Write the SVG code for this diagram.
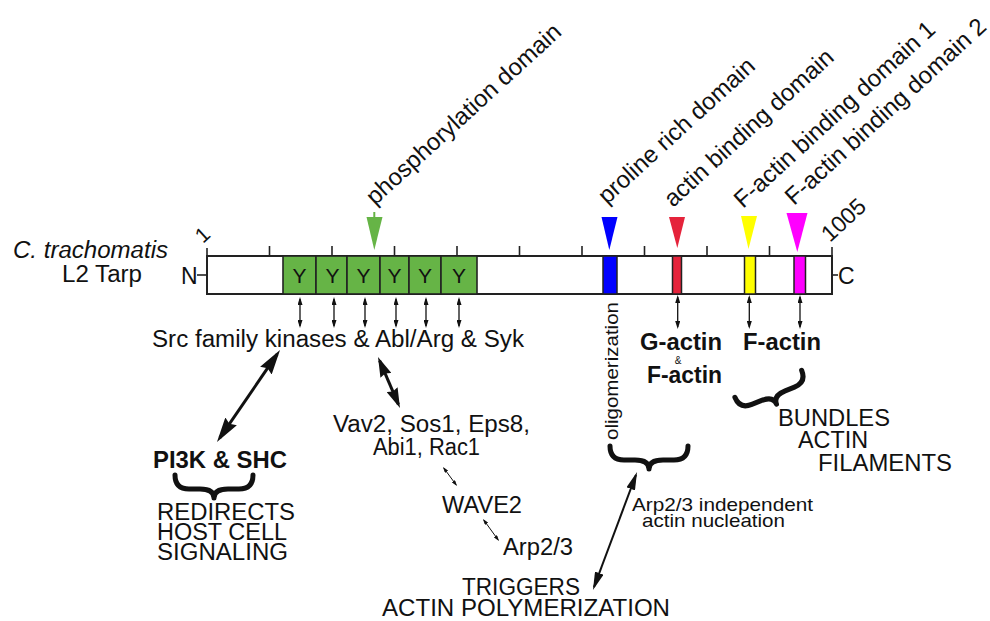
<svg xmlns="http://www.w3.org/2000/svg" width="990" height="621" viewBox="0 0 990 621">
<style>
text{font-family:"Liberation Sans",Arial,Helvetica,sans-serif;fill:#111;}
.f23{font-size:23px}
.f21{font-size:21px}
.f18{font-size:18.5px}
.diag{font-size:24px}
.bold{font-weight:bold}
.bar{fill:#fff;stroke:#222;stroke-width:2}
.box{fill:#66b446;stroke:#222;stroke-width:1.6}
.band{stroke:#222;stroke-width:1.5}
.tick{stroke:#222;stroke-width:1.6}
.brace{fill:none;stroke:#111;stroke-width:5;stroke-linecap:round;stroke-linejoin:round}
.ln{stroke:#111;fill:none}
</style>
<defs>
<marker id="hBig" markerUnits="userSpaceOnUse" viewBox="0 0 25 14" refX="20" refY="7" markerWidth="25" markerHeight="14" orient="auto-start-reverse"><path d="M0,0 L25,7 L0,14 L3,7 Z" fill="#111"/></marker>
<marker id="hMid" markerUnits="userSpaceOnUse" viewBox="0 0 20 12" refX="16" refY="6" markerWidth="20" markerHeight="12" orient="auto-start-reverse"><path d="M0,0 L20,6 L0,12 L2,6 Z" fill="#111"/></marker>
<marker id="hMed" markerUnits="userSpaceOnUse" viewBox="0 0 18 9" refX="15" refY="4.5" markerWidth="18" markerHeight="9" orient="auto-start-reverse"><path d="M0,0 L18,4.5 L0,9 Z" fill="#111"/></marker>
<marker id="hSm" markerUnits="userSpaceOnUse" viewBox="0 0 8 5" refX="6" refY="2.5" markerWidth="8" markerHeight="5" orient="auto-start-reverse"><path d="M0,0 L8,2.5 L0,5 Z" fill="#111"/></marker>
<marker id="hTiny" markerUnits="userSpaceOnUse" viewBox="0 0 6 4" refX="4.5" refY="2" markerWidth="6" markerHeight="4" orient="auto-start-reverse"><path d="M0,0 L6,2 L0,4 Z" fill="#111"/></marker>
</defs>

<g id="species-label">
<text class="f23" x="13" y="258" font-style="italic" textLength="155" lengthAdjust="spacingAndGlyphs">C. trachomatis</text>
<text class="f23" x="62" y="282" textLength="80" lengthAdjust="spacingAndGlyphs">L2 Tarp</text>
</g>

<g id="tarp-protein">
<line class="tick" x1="197" y1="275" x2="207" y2="275"/>
<line class="tick" x1="832" y1="275" x2="838" y2="275"/>
<text class="f23" x="181" y="284">N</text>
<text class="f23" x="838" y="284">C</text>
<rect class="bar" x="207" y="256" width="625" height="38"/>
<line class="tick" x1="207" y1="248" x2="207" y2="256"/>
<line class="tick" x1="832" y1="247" x2="832" y2="256"/>
<line class="tick" x1="269.5" y1="246" x2="269.5" y2="256"/>
<line class="tick" x1="332" y1="246" x2="332" y2="256"/>
<line class="tick" x1="394.5" y1="246" x2="394.5" y2="256"/>
<line class="tick" x1="457" y1="246" x2="457" y2="256"/>
<line class="tick" x1="519.5" y1="246" x2="519.5" y2="256"/>
<line class="tick" x1="582" y1="246" x2="582" y2="256"/>
<line class="tick" x1="644.5" y1="246" x2="644.5" y2="256"/>
<line class="tick" x1="707" y1="246" x2="707" y2="256"/>
<line class="tick" x1="769.5" y1="246" x2="769.5" y2="256"/>
<text class="f21" transform="translate(203,244) rotate(-42.5)">1</text>
<text class="f23" transform="translate(830,243) rotate(-42.5)">1005</text>
</g>

<g id="phosphorylation-domain">
<rect class="box" x="283" y="256" width="33" height="38"/>
<rect class="box" x="316" y="256" width="31" height="38"/>
<rect class="box" x="347" y="256" width="33" height="38"/>
<rect class="box" x="380" y="256" width="29" height="38"/>
<rect class="box" x="409" y="256" width="32" height="38"/>
<rect class="box" x="441" y="256" width="36" height="38"/>
<g class="f21" text-anchor="middle">
<text x="299.5" y="283">Y</text>
<text x="332.5" y="283">Y</text>
<text x="363.5" y="283">Y</text>
<text x="394.5" y="283">Y</text>
<text x="425" y="283">Y</text>
<text x="459" y="283">Y</text>
</g>
<line x1="374.3" y1="212" x2="374.3" y2="218" stroke="#66b446" stroke-width="2"/>
<path d="M366.5,217 L382.5,217 L374.3,250 Z" fill="#66b446"/>
<text class="diag" transform="translate(375,206) rotate(-42.5)">phosphorylation domain</text>
</g>

<g id="proline-rich-domain">
<rect class="band" x="603" y="256" width="14" height="38" fill="#0000ff"/>
<path d="M601.5,217 L617.5,217 L609.3,250 Z" fill="#0000ff"/>
<text class="diag" transform="translate(607,205) rotate(-42.5)">proline rich domain</text>
</g>

<g id="actin-binding-domain">
<rect class="band" x="672.5" y="256" width="9" height="38" fill="#e5233b"/>
<path d="M669,217 L685,217 L677.3,248 Z" fill="#e5233b"/>
<text class="diag" transform="translate(673,208) rotate(-42.5)">actin binding domain</text>
</g>

<g id="f-actin-binding-domain-1">
<rect class="band" x="744.5" y="256" width="11" height="38" fill="#ffff00"/>
<path d="M741,216 L757,216 L748.5,249 Z" fill="#ffff00"/>
<text class="diag" transform="translate(743,209) rotate(-42.5)">F-actin binding domain 1</text>
</g>

<g id="f-actin-binding-domain-2">
<rect class="band" x="794" y="256" width="11.5" height="38" fill="#ff00ff"/>
<path d="M786.5,213 L807.5,213 L797.3,252 Z" fill="#ff00ff"/>
<text class="diag" transform="translate(794,206) rotate(-42.5)">F-actin binding domain 2</text>
</g>

<g id="kinases">
<text class="f23" x="152" y="347" textLength="372" lengthAdjust="spacingAndGlyphs">Src family kinases &amp; Abl/Arg &amp; Syk</text>
</g>

<g id="pi3k-shc">
<text class="f23 bold" x="153" y="468" textLength="134" lengthAdjust="spacingAndGlyphs">PI3K &amp; SHC</text>
<path class="brace" d="M175,475 Q175,489 189,489 L200,489 Q214,489 214,498 Q214,489 228,489 L239,489 Q253,489 253,475"/>
<text class="f23" x="157" y="520" textLength="138" lengthAdjust="spacingAndGlyphs">REDIRECTS</text>
<text class="f23" x="157" y="540" textLength="130" lengthAdjust="spacingAndGlyphs">HOST CELL</text>
<text class="f23" x="157" y="560" textLength="131" lengthAdjust="spacingAndGlyphs">SIGNALING</text>
</g>

<g id="gefs">
<text class="f23" x="333" y="432" textLength="197" lengthAdjust="spacingAndGlyphs">Vav2, Sos1, Eps8,</text>
<text class="f23" x="373" y="455" textLength="107" lengthAdjust="spacingAndGlyphs">Abi1, Rac1</text>
</g>

<g id="wave2">
<text class="f23" x="442" y="513" textLength="80" lengthAdjust="spacingAndGlyphs">WAVE2</text>
</g>

<g id="arp23">
<text class="f23" x="503" y="555" textLength="70" lengthAdjust="spacingAndGlyphs">Arp2/3</text>
</g>

<g id="triggers">
<text class="f23" x="462" y="595" textLength="118" lengthAdjust="spacingAndGlyphs">TRIGGERS</text>
<text class="f23" x="382" y="616" textLength="288" lengthAdjust="spacingAndGlyphs">ACTIN POLYMERIZATION</text>
</g>

<g id="oligomerization">
<text class="f18" transform="translate(617.5,440) rotate(-90)" textLength="138" lengthAdjust="spacingAndGlyphs">oligomerization</text>
<path class="brace" d="M610,446 Q610,460 624,460 L635,460 Q649,460 649,469 Q649,460 663,460 L674,460 Q688,460 688,446"/>
<text class="f18" x="632" y="511" textLength="181" lengthAdjust="spacingAndGlyphs">Arp2/3 independent</text>
<text class="f18" x="642" y="527" textLength="143" lengthAdjust="spacingAndGlyphs">actin nucleation</text>
</g>

<g id="g-actin">
<text class="f23 bold" x="640" y="350" textLength="82" lengthAdjust="spacingAndGlyphs">G-actin</text>
<text x="678" y="364" font-size="10" text-anchor="middle">&amp;</text>
<text class="f23 bold" x="647" y="383" textLength="75" lengthAdjust="spacingAndGlyphs">F-actin</text>
</g>

<g id="f-actin">
<text class="f23 bold" x="743" y="350" textLength="78" lengthAdjust="spacingAndGlyphs">F-actin</text>
<path class="brace" transform="translate(772,393) rotate(-22)" d="M-36,-10 Q-36,3 -23,3 L-13,3 Q0,3 0,12 Q0,3 13,3 L23,3 Q36,3 36,-10"/>
<text class="f23" x="778" y="426" textLength="112" lengthAdjust="spacingAndGlyphs">BUNDLES</text>
<text class="f23" x="798" y="448" textLength="70" lengthAdjust="spacingAndGlyphs">ACTIN</text>
<text class="f23" x="818" y="471" textLength="134" lengthAdjust="spacingAndGlyphs">FILAMENTS</text>
</g>

<g id="connectors">
<g class="ln" stroke-width="1.3" marker-start="url(#hSm)" marker-end="url(#hSm)">
<line x1="300" y1="299" x2="300" y2="326"/>
<line x1="334" y1="299" x2="334" y2="326"/>
<line x1="365" y1="299" x2="365" y2="326"/>
<line x1="396" y1="299" x2="396" y2="326"/>
<line x1="426" y1="299" x2="426" y2="326"/>
<line x1="459" y1="299" x2="459" y2="326"/>
<line x1="677.7" y1="297" x2="677.7" y2="327"/>
<line x1="749.3" y1="297" x2="749.3" y2="327"/>
<line x1="800" y1="297" x2="800" y2="327"/>
</g>
<line class="ln" stroke-width="3" x1="277.2" y1="354.1" x2="219.8" y2="437.9" marker-start="url(#hBig)" marker-end="url(#hBig)"/>
<line class="ln" stroke-width="3" x1="379.6" y1="360.7" x2="398.4" y2="404.3" marker-start="url(#hMid)" marker-end="url(#hMid)"/>
<line class="ln" stroke-width="2" x1="636" y1="474.8" x2="594" y2="587.2" marker-start="url(#hMed)" marker-end="url(#hMed)"/>
<line class="ln" stroke-width="1" x1="443.9" y1="468.2" x2="456.1" y2="484.8" marker-start="url(#hTiny)" marker-end="url(#hTiny)"/>
<line class="ln" stroke-width="1" x1="483.9" y1="520.2" x2="498.1" y2="539.8" marker-start="url(#hTiny)" marker-end="url(#hTiny)"/>
</g>
</svg>
